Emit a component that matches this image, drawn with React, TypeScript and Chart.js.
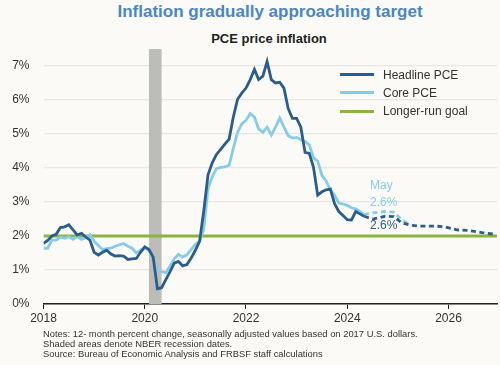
import React, { useEffect, useRef } from 'react';
import { Chart, registerables } from 'chart.js';

Chart.register(...registerables);

// Months counted from January 2018 (index 0)
const startYear = 2018;
const headlinePCE = [
  1.78, 1.87, 2.0, 2.05, 2.25, 2.27, 2.33, 2.18, 2.03, 2.08, 1.97, 1.88,
  1.52, 1.44, 1.52, 1.58, 1.47, 1.41, 1.42, 1.41, 1.31, 1.33, 1.34, 1.52,
  1.68, 1.6, 1.38, 0.45, 0.48, 0.72, 0.95, 1.2, 1.25, 1.12, 1.16, 1.35,
  1.58, 1.84, 2.75, 3.8, 4.15, 4.4, 4.55, 4.7, 4.85, 5.5, 6.02, 6.2,
  6.35, 6.6, 6.9, 6.6, 6.7, 7.13, 6.6, 6.5, 6.52, 6.35, 5.75, 5.46,
  5.46, 5.2, 4.46, 4.43, 4.02, 3.2, 3.3, 3.36, 3.38, 2.95, 2.72, 2.6,
  2.48, 2.47, 2.72, 2.65, 2.58,
];
const corePCE = [
  1.64, 1.64, 1.88, 1.88, 1.97, 1.93, 1.98, 1.9, 1.98, 1.9, 1.95, 2.04,
  1.85, 1.72, 1.6, 1.63, 1.64, 1.7, 1.74, 1.78, 1.7, 1.64, 1.5, 1.58,
  1.66, 1.58, 1.3, 0.95, 0.95, 0.92, 1.12, 1.33, 1.46, 1.38, 1.45, 1.6,
  1.75, 1.85, 2.2, 3.4, 3.75, 3.98, 4.02, 4.03, 4.08, 4.58, 5.05, 5.3,
  5.4, 5.6, 5.5, 5.15, 5.05, 5.2, 4.97, 5.2, 5.47, 5.2, 4.95, 4.88,
  4.9, 4.83, 4.78, 4.68, 4.3, 4.2, 3.78, 3.62, 3.35, 3.2, 2.97, 2.94,
  2.9, 2.83, 2.8, 2.72, 2.63,
];
const projHeadlineMonths = [76, 78, 81, 83, 85, 87, 89, 93, 95, 98, 101, 104, 107];
const projHeadline = [2.58, 2.5, 2.58, 2.57, 2.38, 2.32, 2.29, 2.29, 2.27, 2.18, 2.16, 2.1, 2.05];
const projCoreMonths = [76, 78, 81, 83, 85, 87];
const projCore = [2.63, 2.68, 2.72, 2.7, 2.47, 2.32];
const goalValue = 2;
const recessions = [[25, 28]];
const yTickValues = [0, 1, 2, 3, 4, 5, 6, 7];
const xTickYears = [2018, 2020, 2022, 2024, 2026];
const legendLabels = ['Headline PCE', 'Core PCE', 'Longer-run goal'];
const annotationTexts = ['May', '2.6%', '2.6%'];
const annotationValues = [3.48, 2.99, 2.3];
const annotationMonth = 77.4;

const C_HEAD = '#2b5d8c';
const C_CORE = '#86cce8';
const C_GOAL = '#8ab33f';
const C_BAND = '#bcbcb9';
const BG = '#fbfaf6';
const FONT = '"Liberation Sans", Arial, sans-serif';

const X_MAX = 107.5;

const overlayPlugin = {
  id: 'overlay',
  beforeDatasetsDraw(chart: any) {
    const { ctx, chartArea, scales } = chart;
    ctx.save();
    ctx.fillStyle = C_BAND;
    for (const [a, b] of recessions) {
      const x1 = scales.x.getPixelForValue(a);
      const x2 = scales.x.getPixelForValue(b);
      ctx.fillRect(x1, chartArea.top, x2 - x1, chartArea.bottom - chartArea.top);
    }
    ctx.restore();
  },
  afterDatasetsDraw(chart: any) {
    const { ctx, scales } = chart;
    ctx.save();
    ctx.font = `12px ${FONT}`;
    ctx.textAlign = 'left';
    ctx.textBaseline = 'middle';
    const colors = [C_CORE, C_CORE, C_HEAD];
    annotationTexts.forEach((t, i) => {
      ctx.fillStyle = colors[i];
      ctx.fillText(t, scales.x.getPixelForValue(annotationMonth), scales.y.getPixelForValue(annotationValues[i]));
    });
    ctx.restore();
  },
};

export default function App() {
  const ref = useRef<HTMLCanvasElement | null>(null);

  useEffect(() => {
    if (!ref.current) return;
    const chart = new Chart(ref.current, {
      type: 'line',
      data: {
        datasets: [
          {
            label: 'Headline PCE',
            data: headlinePCE.map((v, i) => ({ x: i, y: v })),
            borderColor: C_HEAD,
            borderWidth: 2.8,
            pointRadius: 0,
            tension: 0,
            order: 1,
          },
          {
            label: 'Headline PCE projection',
            data: projHeadlineMonths.map((m, i) => ({ x: m, y: projHeadline[i] })),
            borderColor: C_HEAD,
            borderWidth: 2.8,
            borderDash: [5, 3.5],
            pointRadius: 0,
            tension: 0,
            order: 1,
          },
          {
            label: 'Core PCE',
            data: corePCE.map((v, i) => ({ x: i, y: v })),
            borderColor: C_CORE,
            borderWidth: 2.8,
            pointRadius: 0,
            tension: 0,
            order: 2,
          },
          {
            label: 'Core PCE projection',
            data: projCoreMonths.map((m, i) => ({ x: m, y: projCore[i] })),
            borderColor: C_CORE,
            borderWidth: 2.8,
            borderDash: [5, 3.5],
            pointRadius: 0,
            tension: 0,
            order: 2,
          },
          {
            label: 'Longer-run goal',
            data: [
              { x: 0, y: goalValue },
              { x: X_MAX, y: goalValue },
            ],
            borderColor: C_GOAL,
            borderWidth: 2.8,
            pointRadius: 0,
            order: 3,
          },
        ],
      },
      options: {
        responsive: false,
        animation: false,
        layout: { padding: { top: 49, right: 3, left: 0, bottom: 0 } },
        plugins: {
          legend: { display: false },
          tooltip: { enabled: false },
          title: { display: false },
        },
        scales: {
          x: {
            type: 'linear',
            min: 0,
            max: X_MAX,
            afterBuildTicks: (s: any) => {
              s.ticks = xTickYears.map((y) => ({ value: (y - startYear) * 12 }));
            },
            afterFit: (s: any) => {
              s.height = 61;
            },
            ticks: {
              callback: (v: any) => String(startYear + Number(v) / 12),
              font: { family: FONT, size: 12 },
              color: '#333',
              padding: 2,
              maxRotation: 0,
            },
            grid: {
              drawOnChartArea: false,
              drawTicks: true,
              tickLength: 5,
              color: '#222',
              lineWidth: 1,
            },
            border: { display: true, color: '#222', width: 1.5 },
          },
          y: {
            min: 0,
            max: 7.5,
            afterBuildTicks: (s: any) => {
              s.ticks = yTickValues.map((v) => ({ value: v }));
            },
            afterFit: (s: any) => {
              s.width = 43.5;
            },
            ticks: {
              callback: (v: any) => `${v}%`,
              font: { family: FONT, size: 12 },
              color: '#333',
              padding: 14,
            },
            grid: {
              drawTicks: false,
              color: '#e8e7e3',
              lineWidth: 1.2,
            },
            border: { display: false },
          },
        },
      },
      plugins: [overlayPlugin],
    } as any);
    return () => chart.destroy();
  }, []);

  const legendColors = [C_HEAD, C_CORE, C_GOAL];
  const legendY = [74.7, 92.7, 111.3];

  return (
    <div
      style={{
        position: 'absolute',
        left: 0,
        top: 0,
        width: 500,
        height: 365,
        background: BG,
        fontFamily: FONT,
        overflow: 'hidden',
      }}
    >
      <div
        style={{
          position: 'absolute',
          left: 0,
          top: 2,
          width: 540,
          textAlign: 'center',
          fontSize: 17,
          lineHeight: '20px',
          fontWeight: 'bold',
          color: '#4a86c6',
        }}
      >
        Inflation gradually approaching target
      </div>
      <div
        style={{
          position: 'absolute',
          left: 0,
          top: 30.5,
          width: 538,
          textAlign: 'center',
          fontSize: 13,
          lineHeight: '16px',
          fontWeight: 'bold',
          color: '#222',
        }}
      >
        PCE price inflation
      </div>
      <canvas ref={ref} width={500} height={365} style={{ position: 'absolute', left: 0, top: 0, width: 500, height: 365 }} />
      {legendLabels.map((label, i) => (
        <div key={label}>
          <div
            style={{
              position: 'absolute',
              left: 340,
              top: legendY[i] - 1.5,
              width: 34,
              height: 3,
              background: legendColors[i],
            }}
          />
          <div
            style={{
              position: 'absolute',
              left: 383,
              top: legendY[i] - 8,
              fontSize: 12,
              lineHeight: '16px',
              color: '#333',
              whiteSpace: 'nowrap',
            }}
          >
            {label}
          </div>
        </div>
      ))}
      <div
        style={{
          position: 'absolute',
          left: 43,
          top: 329,
          fontSize: 9.4,
          lineHeight: '10px',
          color: '#333',
          whiteSpace: 'nowrap',
        }}
      >
        <div>Notes: 12- month percent change, seasonally adjusted values based on 2017 U.S. dollars.</div>
        <div>Shaded areas denote NBER recession dates.</div>
        <div>Source: Bureau of Economic Analysis and FRBSF staff calculations</div>
      </div>
    </div>
  );
}
